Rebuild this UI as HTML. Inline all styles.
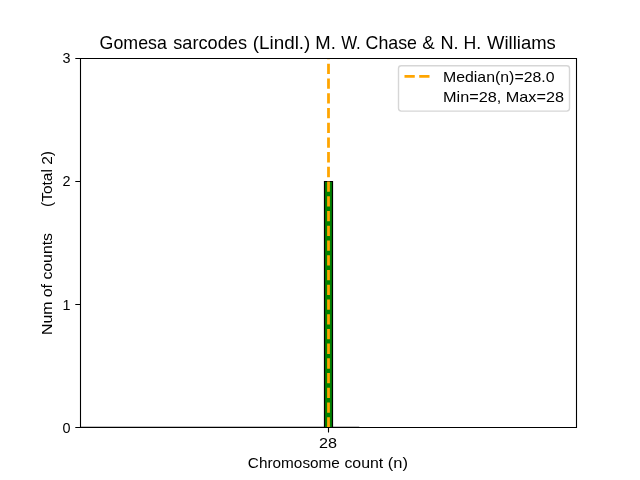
<!DOCTYPE html>
<html><head><meta charset="utf-8"><style>
html,body{margin:0;padding:0;background:#fff;width:640px;height:480px;overflow:hidden}
svg{display:block;will-change:transform}
text{font-family:"Liberation Sans",sans-serif;fill:#000}
</style></head><body>
<svg width="640" height="480" viewBox="0 0 640 480">
<defs><clipPath id="ax"><rect x="80" y="58.5" width="496.5" height="369"/></clipPath></defs>
<!-- zero-height bar outline -->
<line x1="80.5" y1="427.3" x2="359.3" y2="427.3" stroke="#000" stroke-width="1.2"/>
<!-- bar -->
<rect x="324" y="181" width="9" height="247" fill="#008000"/>
<path d="M324.5 428V181.5H332.5V428" fill="none" stroke="#000" stroke-width="1.2"/>
<!-- median line -->
<line x1="328.5" y1="427.56" x2="328.5" y2="57.6" stroke="#FFA500" stroke-width="2.78" stroke-dasharray="10.286 4.445" clip-path="url(#ax)"/>
<!-- spines -->
<path d="M80.5 58.5H576.5V427.5H80.5Z" fill="none" stroke="#000" stroke-width="1.1"/>
<!-- y ticks -->
<path d="M75.3 58.5H80M75.3 181.5H80M75.3 304.5H80M75.3 427.5H80M328.5 427.5V432.4" stroke="#000" stroke-width="1.1"/>
<!-- y tick labels -->
<g font-size="14.4" text-anchor="end">
<text x="70.5" y="63.3">3</text>
<text x="70.5" y="186.2">2</text>
<text x="70.5" y="310">1</text>
<text x="70.5" y="433">0</text>
</g>
<text id="xt28" x="319" y="448" font-size="14.4" textLength="18" lengthAdjust="spacingAndGlyphs">28</text>
<g font-size="14.4">
<text id="x0" x="247.85" y="467.9" textLength="92.04" lengthAdjust="spacingAndGlyphs">Chromosome</text>
<text id="x1" x="344.43" y="467.9" textLength="38.86" lengthAdjust="spacingAndGlyphs">count</text>
<text id="x2" x="387.78" y="467.9" textLength="20.19" lengthAdjust="spacingAndGlyphs">(n)</text>
</g>
<text id="ylab1" transform="rotate(-90)" x="-335" y="51.9" font-size="14.4" textLength="102" lengthAdjust="spacingAndGlyphs">Num of counts</text>
<text id="ylab2" transform="rotate(-90)" x="-207" y="51.9" font-size="14.4" textLength="56" lengthAdjust="spacingAndGlyphs">(Total 2)</text>
<g font-size="17.8">
<text id="t0" x="99.62" y="48.6" textLength="67.19" lengthAdjust="spacingAndGlyphs">Gomesa</text>
<text id="t1" x="173.30" y="48.6" textLength="73.67" lengthAdjust="spacingAndGlyphs">sarcodes</text>
<text id="t2" x="252.77" y="48.6" textLength="57.55" lengthAdjust="spacingAndGlyphs">(Lindl.)</text>
<text id="t3" x="315.25" y="48.6" textLength="20.52" lengthAdjust="spacingAndGlyphs">M.</text>
<text id="t4" x="341.15" y="48.6" textLength="19.65" lengthAdjust="spacingAndGlyphs">W.</text>
<text id="t5" x="365.59" y="48.6" textLength="51.40" lengthAdjust="spacingAndGlyphs">Chase</text>
<text id="t6" x="422.28" y="48.6" textLength="12.43" lengthAdjust="spacingAndGlyphs">&amp;</text>
<text id="t7" x="440.44" y="48.6" textLength="18.11" lengthAdjust="spacingAndGlyphs">N.</text>
<text id="t8" x="463.38" y="48.6" textLength="17.69" lengthAdjust="spacingAndGlyphs">H.</text>
<text id="t9" x="487.12" y="48.6" textLength="68.63" lengthAdjust="spacingAndGlyphs">Williams</text>
</g>
<!-- legend -->
<rect x="398.5" y="65.75" width="171" height="45.4" rx="2.8" ry="2.8" fill="#fff" fill-opacity="0.8" stroke="#d6d6d6" stroke-width="1.39"/>
<line x1="404.5" y1="76.3" x2="432.2" y2="76.3" stroke="#FFA500" stroke-width="2.78" stroke-dasharray="10.28 4.44"/>
<g font-size="14.4">
<text id="leg1" x="443" y="82" textLength="111.5" lengthAdjust="spacingAndGlyphs">Median(n)=28.0</text>
<text id="leg2" x="443" y="101.9" textLength="121" lengthAdjust="spacingAndGlyphs">Min=28, Max=28</text>
</g>
</svg>
</body></html>
